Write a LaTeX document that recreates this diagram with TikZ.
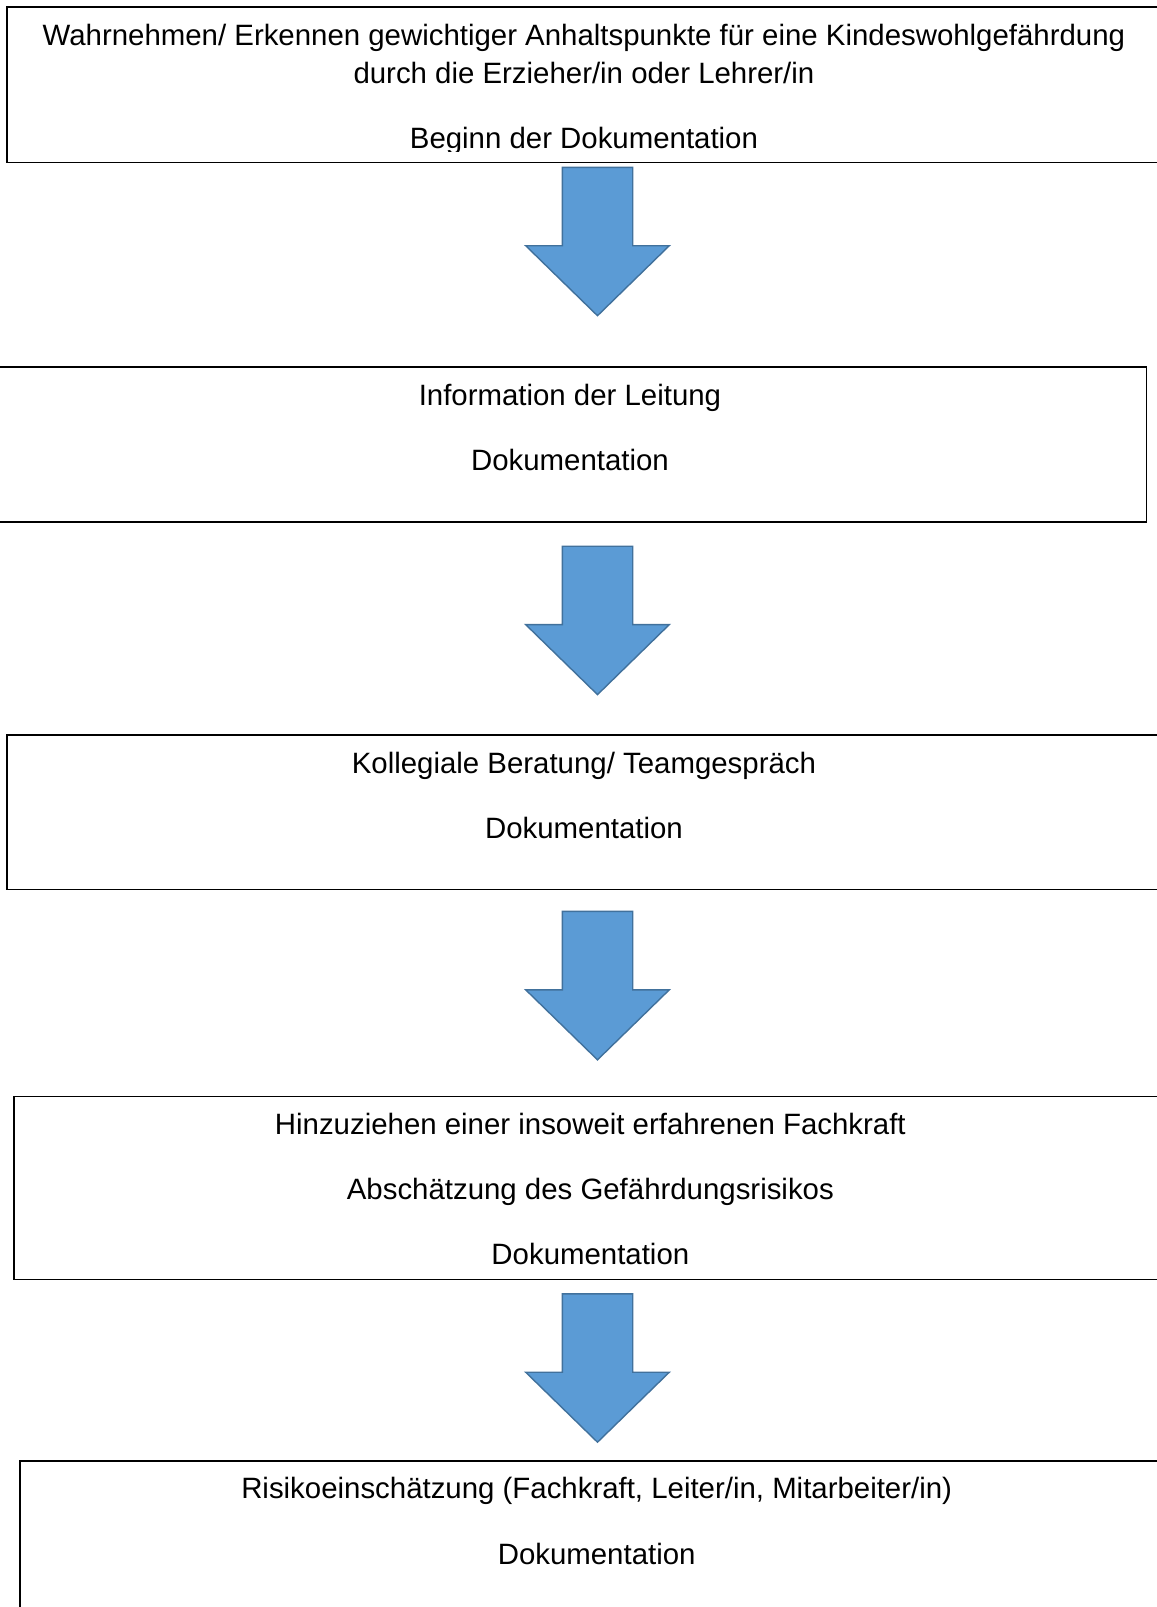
\documentclass[tikz,border=0pt]{standalone}
\usepackage{fontspec}
\setmainfont{Liberation Sans}
\definecolor{arrowfill}{HTML}{5B9BD5}
\definecolor{arrowline}{HTML}{41719C}
\begin{document}
\begin{tikzpicture}[x=1pt,y=-1pt,
  stepbox/.style={draw=black, line width=1.7pt, rectangle, minimum width=1153.3pt,
    anchor=north west, inner sep=0pt, outer sep=0pt},
  txt/.style={anchor=base, inner sep=0pt, font=\fontsize{29.4}{35}\selectfont},
  blockarrow/.style={fill=arrowfill, draw=arrowline, line width=1.4pt, line join=miter},
  downarrow/.pic={\draw[blockarrow] (-35.2,0) -- (35.2,0) -- (35.2,78.4) -- (71.8,78.4)
     -- (0,148.4) -- (-71.8,78.4) -- (-35.2,78.4) -- cycle;}]
\useasboundingbox (0,0) rectangle (1157,1607);
\clip (0,0) rectangle (1157,1607);
\fill[white] (0,0) rectangle (1157,1607);

% boxes
\node[stepbox, minimum height=155.2pt] (b1) at (7.3,7.3) {};
\node[stepbox, minimum height=155pt] (b2) at (-6.7,366.7) {};
\node[stepbox, minimum height=154.8pt] (b3) at (7.3,734.8) {};
\node[stepbox, minimum height=183.1pt] (b4) at (13.7,1096.5) {};
\node[stepbox, minimum height=160pt] (b5) at (20,1461) {};

% box 1 text
\node[txt] (b1l1) at ([yshift=-37.7pt]b1.north) {Wahrnehmen/ Erkennen gewichtiger Anhaltspunkte für eine Kindeswohlgefährdung};
\node[txt] (b1l2) at ([yshift=-76pt]b1.north) {durch die Erzieher/in oder Lehrer/in};
\begin{scope}
\clip (0,0) rectangle (1157,151.7);
\node[txt] (b1l3) at ([yshift=-141pt]b1.north) {Beginn der Dokumentation};
\end{scope}

% box 2 text
\node[txt] (b2l1) at ([yshift=-38.3pt]b2.north) {Information der Leitung};
\node[txt] (b2l2) at ([yshift=-103.3pt]b2.north) {Dokumentation};

% box 3 text
\node[txt] (b3l1) at ([yshift=-38.5pt]b3.north) {Kollegiale Beratung/ Teamgespräch};
\node[txt] (b3l2) at ([yshift=-103.2pt]b3.north) {Dokumentation};

% box 4 text
\node[txt] (b4l1) at ([yshift=-38.3pt]b4.north) {Hinzuziehen einer insoweit erfahrenen Fachkraft};
\node[txt] (b4l2) at ([yshift=-102.5pt]b4.north) {Abschätzung des Gefährdungsrisikos};
\node[txt] (b4l3) at ([yshift=-167.8pt]b4.north) {Dokumentation};

% box 5 text
\node[txt] (b5l1) at ([yshift=-37.5pt]b5.north) {Risikoeinschätzung (Fachkraft, Leiter/in, Mitarbeiter/in)};
\node[txt] (b5l2) at ([yshift=-103.3pt]b5.north) {Dokumentation};

% arrows
\coordinate (a1) at (597.5,167.3);
\coordinate (a2) at (597.5,546.2);
\coordinate (a3) at (597.5,911.4);
\coordinate (a4) at (597.5,1293.8);
\pic at (a1) {downarrow};
\pic at (a2) {downarrow};
\pic at (a3) {downarrow};
\pic at (a4) {downarrow};
\end{tikzpicture}
\end{document}
